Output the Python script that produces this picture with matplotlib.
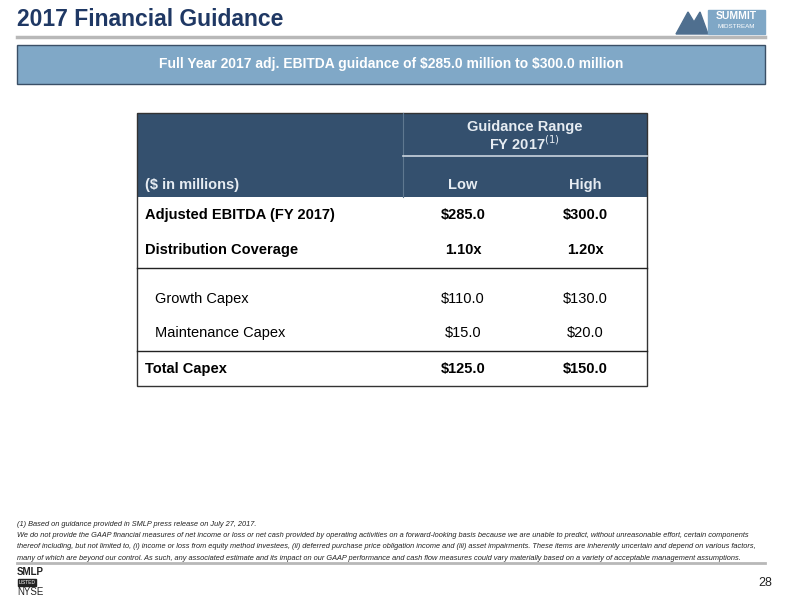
import matplotlib
matplotlib.use("Agg")
import matplotlib.pyplot as plt
from matplotlib.patches import Rectangle, Polygon

plt.rcParams['font.family'] = ['Liberation Sans', 'DejaVu Sans']

title = "2017 Financial Guidance"
banner = "Full Year 2017 adj. EBITDA guidance of $285.0 million to $300.0 million"
col_group = ["Guidance Range", "FY 2017$^{(1)}$"]
col_heads = ["($ in millions)", "Low", "High"]
row_labels = ["Adjusted EBITDA (FY 2017)", "Distribution Coverage", "Growth Capex", "Maintenance Capex", "Total Capex"]
low_vals = ["$285.0", "1.10x", "$110.0", "$15.0", "$125.0"]
high_vals = ["$300.0", "1.20x", "$130.0", "$20.0", "$150.0"]
row_bold = [True, True, False, False, True]
row_indent = [False, False, True, True, False]
footnotes = [
    "(1) Based on guidance provided in SMLP press release on July 27, 2017.",
    "We do not provide the GAAP financial measures of net income or loss or net cash provided by operating activities on a forward-looking basis because we are unable to predict, without unreasonable effort, certain components",
    "thereof including, but not limited to, (i) income or loss from equity method investees, (ii) deferred purchase price obligation income and (iii) asset impairments. These items are inherently uncertain and depend on various factors,",
    "many of which are beyond our control. As such, any associated estimate and its impact on our GAAP performance and cash flow measures could vary materially based on a variety of acceptable management assumptions.",
]

fig = plt.figure(figsize=(7.88, 6.0), dpi=100)
ax = fig.add_axes([0, 0, 1, 1])
ax.set_xlim(0, 788); ax.set_ylim(600, 0); ax.axis('off')

navy = '#1f3864'
dark = '#34506e'
ax.text(17, 20, title, fontsize=16.5, fontweight='bold', color=navy, va='center', ha='left')
ax.plot([17, 765], [37, 37], color='#b8b8b8', lw=2.5)
# logo
ax.add_patch(Polygon([[676, 34], [688, 12], [694, 22], [700, 12], [708, 34]], closed=True, color='#4f6f8f'))
ax.add_patch(Rectangle((708, 10), 57, 24, color='#7fa7c6'))
ax.text(736, 16, "SUMMIT", fontsize=7.5, fontweight='bold', color='white', ha='center', va='center')
ax.text(736, 27, "MIDSTREAM", fontsize=4.5, color='white', ha='center', va='center')

ax.add_patch(Rectangle((17, 45), 748, 39, facecolor='#80a8c7', edgecolor='#3a4f66', lw=1))
ax.text(391, 64, banner, fontsize=10, fontweight='bold', color='white', ha='center', va='center', parse_math=False)

# table
L, R, T, B = 137, 647, 113, 386
fs = 10.5
ax.add_patch(Rectangle((L, T), R - L, 197 - T, facecolor=dark, edgecolor='none'))
ax.plot([403, 403], [T, 197], color='#5f7890', lw=0.8)
ax.plot([403, R], [156, 156], color='#c9d4de', lw=1.2)
ax.text(525, 127, col_group[0], fontsize=fs, fontweight='bold', color='#e6ecf2', ha='center', va='center')
ax.text(525, 144, col_group[1], fontsize=fs, fontweight='bold', color='#e6ecf2', ha='center', va='center')
xl, xh = 463, 585
ax.text(145, 185, col_heads[0], fontsize=fs, fontweight='bold', color='#e6ecf2', ha='left', va='center')
ax.text(xl, 185, col_heads[1], fontsize=fs, fontweight='bold', color='#e6ecf2', ha='center', va='center')
ax.text(xh, 185, col_heads[2], fontsize=fs, fontweight='bold', color='#e6ecf2', ha='center', va='center')
row_y = [215, 250, 299, 333, 369]
for lab, lo, hi, b, ind, y in zip(row_labels, low_vals, high_vals, row_bold, row_indent, row_y):
    fw = 'bold' if b else 'normal'
    ax.text(155 if ind else 145, y, lab, fontsize=fs, fontweight=fw, color='black', ha='left', va='center')
    ax.text(xl, y, lo, fontsize=fs, fontweight=fw, color='black', ha='center', va='center')
    ax.text(xh, y, hi, fontsize=fs, fontweight=fw, color='black', ha='center', va='center')
for y in [268, 351]:
    ax.plot([L, R], [y, y], color='#222222', lw=1)
ax.add_patch(Rectangle((L, T), R - L, B - T, facecolor='none', edgecolor='#333333', lw=1))

for i, f in enumerate(footnotes):
    ax.text(17, 524 + i * 11.5, f, fontsize=5.3, style='italic', color='#222222', ha='left', va='center')
ax.plot([17, 765], [563, 563], color='#b8b8b8', lw=2)
ax.text(17, 572, "SMLP", fontsize=7, fontweight='bold', color='#222222', ha='left', va='center')
ax.add_patch(Rectangle((18, 579), 18, 7, color='#222222'))
ax.text(27, 582.5, "LISTED", fontsize=3.5, color='white', ha='center', va='center')
ax.text(17, 592, "NYSE", fontsize=7, color='#222222', ha='left', va='center')
ax.text(772, 583, "28", fontsize=9, color='#222222', ha='right', va='center')

fig.savefig("out.png", dpi=100)
